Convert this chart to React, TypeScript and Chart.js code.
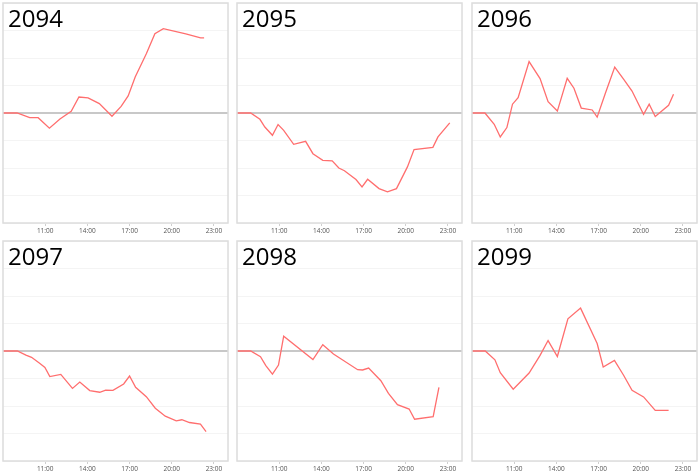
import React, { useEffect, useRef } from "react";
import { Chart, registerables, Plugin } from "chart.js";

Chart.register(...registerables);

const tickHours = [11, 14, 17, 20, 23];

const hours2094 = [8, 9, 9.9, 10.5, 11.3, 12.05, 12.85, 13.4, 14.05, 14.85, 15.75, 16.4, 16.9, 17.4, 18.2, 18.8, 19.4, 21.0, 22.05, 22.3];
const values2094 = [0, 0, -0.17, -0.17, -0.55, -0.22, 0.06, 0.58, 0.55, 0.34, -0.12, 0.24, 0.62, 1.31, 2.16, 2.88, 3.07, 2.88, 2.73, 2.73];

const hours2095 = [8, 8.97, 9.63, 9.98, 10.52, 10.92, 11.32, 12.03, 12.88, 13.4, 14.1, 14.77, 15.24, 15.64, 16.46, 16.89, 17.29, 18.1, 18.7, 19.34, 20.12, 20.59, 21.93, 22.29, 23.13];
const values2095 = [0, 0, -0.23, -0.51, -0.81, -0.42, -0.63, -1.14, -1.03, -1.48, -1.72, -1.74, -2.0, -2.1, -2.42, -2.69, -2.41, -2.75, -2.87, -2.75, -1.96, -1.33, -1.25, -0.87, -0.36];

const hours2096 = [8, 8.92, 9.58, 10.01, 10.48, 10.88, 11.28, 12.06, 12.84, 13.41, 14.07, 14.77, 15.25, 15.77, 16.55, 16.9, 17.49, 18.15, 18.79, 19.38, 20.2, 20.6, 21.03, 21.98, 22.33];
const values2096 = [0, 0, -0.41, -0.87, -0.53, 0.32, 0.56, 1.87, 1.25, 0.41, 0.07, 1.26, 0.9, 0.18, 0.11, -0.15, 0.73, 1.67, 1.22, 0.8, -0.05, 0.32, -0.13, 0.28, 0.68];

const hours2097 = [8, 9.02, 9.63, 10.03, 10.58, 10.98, 11.33, 12.11, 12.94, 13.46, 14.17, 14.88, 15.3, 15.82, 16.58, 17.0, 17.43, 18.19, 18.83, 19.54, 20.32, 20.72, 21.26, 22.04, 22.44];
const values2097 = [0, 0, -0.15, -0.23, -0.44, -0.6, -0.93, -0.85, -1.36, -1.13, -1.44, -1.5, -1.42, -1.43, -1.2, -0.91, -1.32, -1.66, -2.08, -2.37, -2.54, -2.5, -2.6, -2.66, -2.93];

const hours2098 = [8, 8.97, 9.67, 10.05, 10.52, 10.95, 11.32, 13.4, 14.1, 14.86, 16.58, 16.93, 17.36, 18.23, 18.77, 19.41, 20.24, 20.63, 21.95, 22.36];
const values2098 = [0, 0, -0.21, -0.53, -0.84, -0.51, 0.54, -0.31, 0.23, -0.11, -0.68, -0.69, -0.62, -1.08, -1.54, -1.95, -2.11, -2.48, -2.39, -1.32];

const hours2099 = [8, 8.94, 9.63, 10.01, 10.93, 12.06, 12.84, 13.41, 14.07, 14.82, 15.72, 16.9, 17.33, 18.13, 18.79, 19.38, 20.2, 21.03, 21.98];
const values2099 = [0, 0, -0.32, -0.79, -1.39, -0.8, -0.16, 0.38, -0.2, 1.17, 1.56, 0.27, -0.58, -0.34, -0.89, -1.43, -1.67, -2.16, -2.16];

const panels = [
  { title: "2094", hours: hours2094, values: values2094 },
  { title: "2095", hours: hours2095, values: values2095 },
  { title: "2096", hours: hours2096, values: values2096 },
  { title: "2097", hours: hours2097, values: values2097 },
  { title: "2098", hours: hours2098, values: values2098 },
  { title: "2099", hours: hours2099, values: values2099 },
];

const colLefts = [0, 234, 469];
const rowTops = [0, 238];

// big year label in the top-left corner plus the light frame round the plot
const panelDecor: Plugin<"line"> = {
  id: "panelDecor",
  afterDraw(chart, _args, opts: any) {
    const { ctx, chartArea } = chart;
    ctx.save();
    ctx.strokeStyle = "#dcdcdc";
    ctx.lineWidth = 1.5;
    ctx.strokeRect(chartArea.left, chartArea.top, chartArea.width, chartArea.height);
    ctx.font = '24px "Open Sans"';
    ctx.fillStyle = "#000";
    ctx.textBaseline = "alphabetic";
    ctx.fillText(opts.text, chartArea.left + 5, chartArea.top + 24);
    ctx.restore();
  },
};

const Panel = ({ title, hours, values }: { title: string; hours: number[]; values: number[] }) => {
  const canvasRef = useRef<HTMLCanvasElement | null>(null);

  useEffect(() => {
    let chart: Chart | null = null;
    if (canvasRef.current) {
      chart = new Chart(canvasRef.current, {
        type: "line",
        data: {
          datasets: [
            {
              data: hours.map((h, i) => ({ x: h, y: values[i] })),
              borderColor: "#ff6e6e",
              borderWidth: 1.3,
              pointRadius: 0,
              tension: 0,
              fill: false,
            },
          ],
        },
        options: {
          animation: false,
          responsive: false,
          layout: { padding: { left: 3, right: 4, top: 3, bottom: 0 } },
          plugins: {
            legend: { display: false },
            tooltip: { enabled: false },
            panelDecor: { text: title },
          } as any,
          scales: {
            x: {
              type: "linear",
              min: 8,
              max: 24,
              afterBuildTicks: (scale) => {
                scale.ticks = tickHours.map((v) => ({ value: v }));
              },
              afterFit: (scale) => {
                scale.height = 14;
              },
              ticks: {
                autoSkip: false,
                maxRotation: 0,
                padding: 1,
                color: "#555",
                font: { family: "Open Sans", size: 6.5 },
                callback: (v) => `${v}:00`,
              },
              grid: { drawOnChartArea: false, tickLength: 3, color: "#cfcfcf" },
              border: { display: false },
            },
            y: {
              min: -4,
              max: 4,
              ticks: { display: false, stepSize: 1 },
              afterFit: (scale) => {
                scale.width = 0;
              },
              grid: {
                drawTicks: false,
                tickLength: 0,
                color: (ctx) => (ctx.tick && ctx.tick.value === 0 ? "#c8c8c8" : "#f4f4f4"),
                lineWidth: (ctx) => (ctx.tick && ctx.tick.value === 0 ? 2 : 1),
              },
              border: { display: false },
            },
          },
        },
        plugins: [panelDecor],
      });
    }
    return () => {
      if (chart) {
        chart.destroy();
      }
    };
  }, [title, hours, values]);

  return <canvas ref={canvasRef} width={232} height={237} />;
};

export default function App() {
  return (
    <div style={{ position: "absolute", left: 0, top: 0, width: 700, height: 475, background: "#fff" }}>
      {panels.map((p, i) => (
        <div
          key={p.title}
          style={{ position: "absolute", left: colLefts[i % 3], top: rowTops[Math.floor(i / 3)], width: 232, height: 237 }}
        >
          <Panel title={p.title} hours={p.hours} values={p.values} />
        </div>
      ))}
    </div>
  );
}
